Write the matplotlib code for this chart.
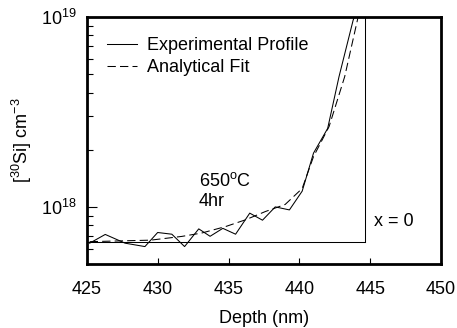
import numpy as np
import matplotlib
matplotlib.use("Agg")
import matplotlib.pyplot as plt
from matplotlib.ticker import LogLocator, NullFormatter, MultipleLocator

plt.rcParams["font.family"] = "Liberation Sans"
plt.rcParams["mathtext.fontset"] = "custom"
plt.rcParams["mathtext.rm"] = "Liberation Sans"
plt.rcParams["mathtext.it"] = "Liberation Sans:italic"

# SIMS profile
exp_depth = [425.2, 426.3, 427.7, 429.1, 430.0, 431.0, 431.9, 432.9, 433.7, 434.6,
             435.5, 436.5, 437.4, 438.3, 439.3, 440.2, 441.0, 442.0, 442.8, 443.8, 444.0]
exp_conc = [6.44e17, 7.16e17, 6.44e17, 6.18e17, 7.33e17, 7.18e17, 6.18e17, 7.66e17,
            7.00e17, 7.71e17, 7.18e17, 9.27e17, 8.51e17, 1.00e18, 9.64e17, 1.21e18,
            1.92e18, 2.59e18, 4.85e18, 9.64e18, 1.05e19]

fit_depth = [425.2, 429.5, 431.7, 433.1, 434.8, 436.2, 437.6, 439.0, 440.2, 441.0,
             442.1, 443.2, 444.1, 444.2]
fit_conc = [6.56e17, 6.68e17, 6.99e17, 7.28e17, 7.88e17, 8.55e17, 9.45e17, 1.03e18,
            1.25e18, 1.84e18, 2.65e18, 4.85e18, 9.64e18, 1.05e19]

bg_level = 6.55e17     # horizontal background line
x0_depth = 444.6       # interface position (x = 0)

fig = plt.figure(figsize=(4.57, 3.28), dpi=100)
ax = fig.add_axes([0.190, 0.195, 0.775, 0.753])

ax.plot(exp_depth, exp_conc, color="black", lw=0.75, label="Experimental Profile")
ax.plot(fit_depth, fit_conc, color="black", lw=0.75, linestyle=(0, (8, 4)),
        label="Analytical Fit")
ax.plot([425, x0_depth], [bg_level, bg_level], color="black", lw=0.75)
ax.plot([x0_depth, x0_depth], [bg_level, 1e19], color="black", lw=0.75)

ax.set_yscale("log")
ax.set_xlim(425, 450)
ax.set_ylim(5.0e17, 1e19)
ax.xaxis.set_major_locator(MultipleLocator(5))
ax.yaxis.set_major_locator(LogLocator(base=10))
ax.yaxis.set_minor_locator(LogLocator(base=10, subs=np.arange(2, 10)))
ax.yaxis.set_minor_formatter(NullFormatter())

ax.tick_params(axis="x", direction="in", length=4, width=0.8, labelsize=13, pad=12,
               top=False)
ax.tick_params(axis="y", which="major", direction="in", length=7, width=0.8,
               labelsize=13, pad=7, right=False)
ax.tick_params(axis="y", which="minor", direction="in", length=4, width=0.8, right=False)
for s in ax.spines.values():
    s.set_linewidth(2)

ax.set_xlabel("Depth (nm)", fontsize=13, labelpad=9)
ax.set_ylabel("[$^{30}$Si] cm$^{-3}$", fontsize=13, labelpad=5)

ax.text(432.9, 1.29e18, "650$^{\\rm o}$C", fontsize=13, va="baseline")
ax.text(432.9, 1.01e18, "4hr", fontsize=13, va="baseline")
ax.text(445.25, 7.94e17, "x = 0", fontsize=13, va="baseline")

ax.legend(loc="upper left", frameon=False, fontsize=13, handlelength=1.7,
          handletextpad=0.55, labelspacing=0.3, borderpad=0.3, borderaxespad=0.8)

fig.savefig("out.png", dpi=100)
